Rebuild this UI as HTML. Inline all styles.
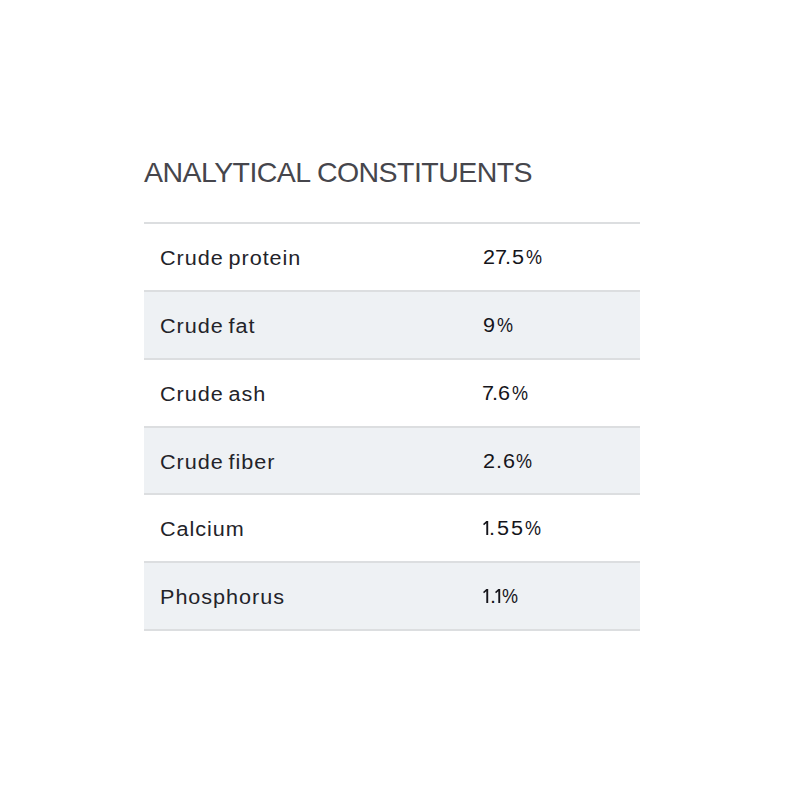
<!DOCTYPE html>
<html><head><meta charset="utf-8">
<style>
html,body{margin:0;padding:0;background:#fff;width:800px;height:800px;overflow:hidden}
body{font-family:"Liberation Sans",sans-serif;color:#15151b;position:relative}
.title{position:absolute;left:144px;top:152px;font-size:28.5px;line-height:40px;letter-spacing:-0.55px;white-space:nowrap;color:#46464c}
.row{position:absolute;left:144px;width:496px;box-sizing:border-box;border-top:2px solid #dcdee0}
.alt{background:#eef1f4}
.last{border-bottom:2px solid #dcdee0}
.k,.g{position:absolute;top:1px;line-height:66px;font-size:20px;white-space:nowrap}
.k{color:#232329;left:16px;letter-spacing:0.9px;word-spacing:-2px;transform:scaleX(1.08);transform-origin:0 0}
.g{top:0;transform:scaleX(1.08);transform-origin:0.9px 0}
.pc{transform:scaleX(0.9);transform-origin:0.8px 0}
.one{position:absolute;top:26.2px;fill:#15151b}
</style></head><body>
<div class="title">ANALYTICAL CONSTITUENTS</div>
<div class="row" style="top:222px;height:68px"><span class="k">Crude protein</span><span class="g" style="left:338.8px">2</span><span class="g" style="left:350.6px">7</span><span class="g" style="left:360.8px">.</span><span class="g" style="left:368.1px">5</span><span class="g pc" style="left:381.5px">%</span></div>
<div class="row alt" style="top:290px;height:68px"><span class="k">Crude fat</span><span class="g" style="left:338.9px">9</span><span class="g pc" style="left:353.4px">%</span></div>
<div class="row" style="top:358px;height:67px"><span class="k">Crude ash</span><span class="g" style="left:338.3px">7</span><span class="g" style="left:347.5px">.</span><span class="g" style="left:354.4px">6</span><span class="g pc" style="left:368.2px">%</span></div>
<div class="row alt" style="top:426px;height:67px"><span class="k">Crude fiber</span><span class="g" style="left:338.6px">2</span><span class="g" style="left:352.0px">.</span><span class="g" style="left:358.5px">6</span><span class="g pc" style="left:372.0px">%</span></div>
<div class="row" style="top:493px;height:68px"><span class="k">Calcium</span><svg class="one" style="left:339.2px" width="7" height="15" viewBox="0 0 7 15"><path d="M3.3 0.1H5.2V14H3.3V2.3L1 4.2L0.1 3.1Z"/></svg><span class="g" style="left:345.4px">.</span><span class="g" style="left:352.8px">5</span><span class="g" style="left:366.8px">5</span><span class="g pc" style="left:380.6px">%</span></div>
<div class="row alt last" style="top:561px;height:70px"><span class="k">Phosphorus</span><svg class="one" style="left:339.4px" width="7" height="15" viewBox="0 0 7 15"><path d="M3.3 0.1H5.2V14H3.3V2.3L1 4.2L0.1 3.1Z"/></svg><span class="g" style="left:345.65px">.</span><svg class="one" style="left:351.0px" width="7" height="15" viewBox="0 0 7 15"><path d="M3.3 0.1H5.2V14H3.3V2.3L1 4.2L0.1 3.1Z"/></svg><span class="g pc" style="left:358.2px">%</span></div>
</body></html>
